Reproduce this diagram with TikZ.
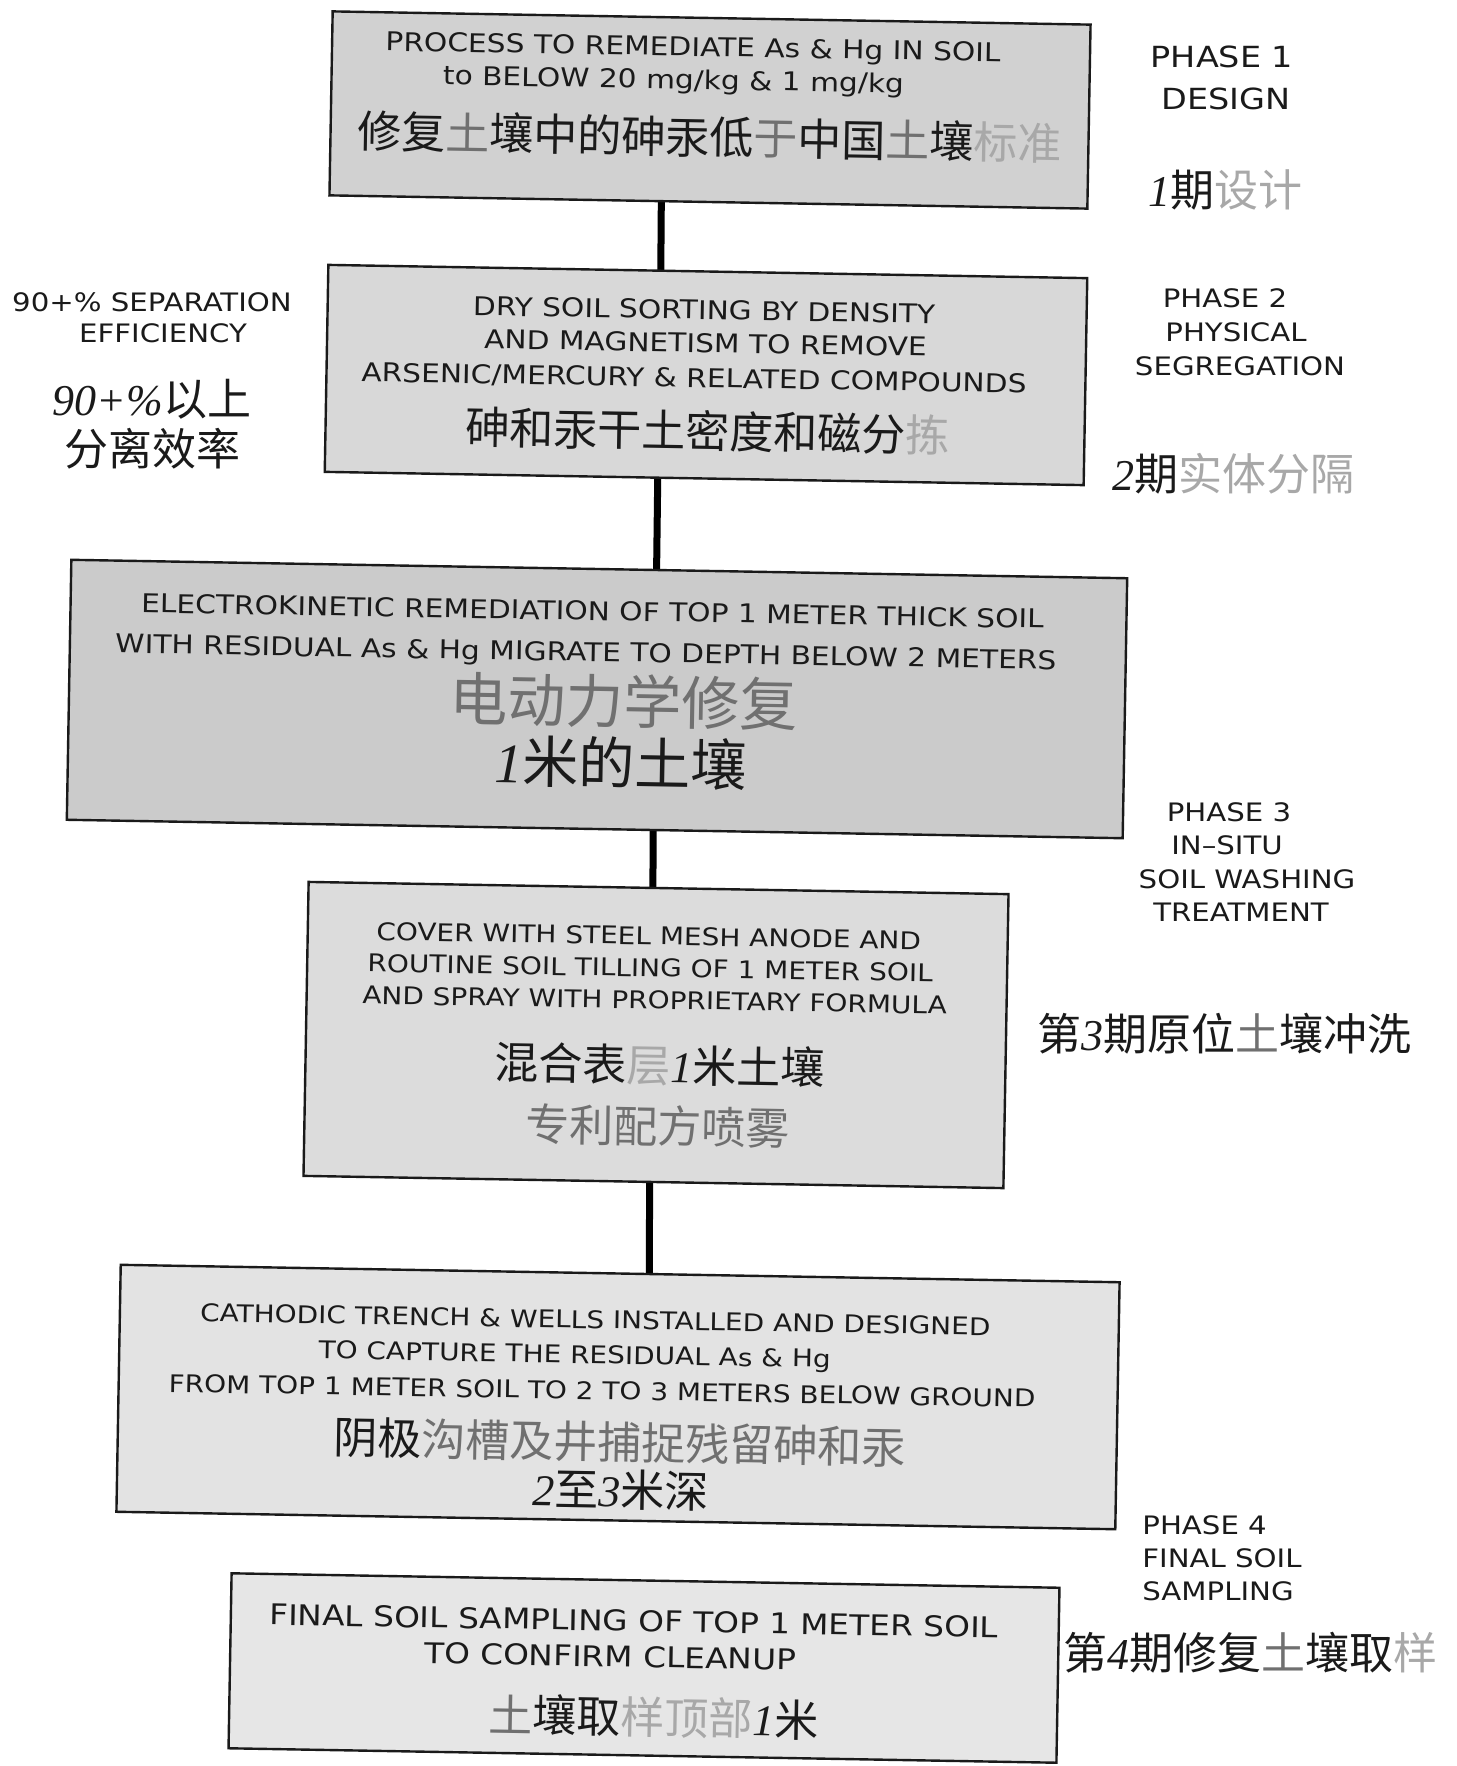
\documentclass[tikz,border=0pt]{standalone}
\usepackage{fontspec}
\setmainfont[FakeStretch=1.15]{DejaVu Sans}
\newfontfamily\cjk{Noto Sans CJK SC}
\newfontfamily\serifdig{Liberation Serif}
\usetikzlibrary{backgrounds}
\definecolor{ink}{HTML}{1A1A1A}
\definecolor{inkmid}{HTML}{707070}
\definecolor{inklt}{HTML}{A8A8A8}
\definecolor{fillA}{HTML}{D1D1D1}
\definecolor{fillB}{HTML}{D8D8D8}
\definecolor{fillC}{HTML}{CBCBCB}
\definecolor{fillD}{HTML}{DCDCDC}
\definecolor{fillE}{HTML}{E3E3E3}
\definecolor{fillF}{HTML}{E6E6E6}
\newcommand\cdk[1]{{\color{ink}#1}}
\newcommand\cmd[1]{{\color{inkmid}#1}}
\newcommand\clt[1]{{\color{inklt}#1}}
\newcommand\dig[1]{{\serifdig\itshape #1}}
\begin{document}
\begin{tikzpicture}[x=0.5pt,y=-0.5pt,
  box/.style={draw=ink, line width=1.2pt, inner sep=0pt},
  en/.style={inner sep=0pt, text=ink, font=\fontsize{12.9}{15}\selectfont, text height=9.4pt, text depth=0pt},
  ens/.style={inner sep=0pt, text=ink, font=\fontsize{12.15}{14}\selectfont, text height=8.9pt, text depth=0pt},
  enl/.style={inner sep=0pt, text=ink, font=\fontsize{14.25}{17}\selectfont, text height=10.4pt, text depth=0pt},
  side/.style={inner sep=0pt, text=ink, font=\fontsize{12.7}{15}\selectfont, text height=9.3pt, text depth=0pt},
  sidel/.style={inner sep=0pt, text=ink, font=\fontsize{14.55}{17}\selectfont, text height=10.6pt, text depth=0pt},
  cjA/.style={inner sep=0pt, text=ink, font=\cjk\fontsize{22}{26}\selectfont, text height=19.4pt, text depth=2.6pt},
  cjC/.style={inner sep=0pt, text=ink, font=\cjk\fontsize{29}{34}\selectfont, text height=25.5pt, text depth=3.5pt},
  cjD/.style={inner sep=0pt, text=ink, font=\cjk\fontsize{28}{33}\selectfont, text height=24.6pt, text depth=3.4pt},
  conn/.style={line width=3.5pt, draw=black}]
\useasboundingbox (0,0) rectangle (1456,1766);

% Box 1
\begin{scope}[shift={(710,110)}, rotate=-1, transform shape]
  \node[box, fill=fillA, minimum width=379pt, minimum height=92pt] (b1) at (0,0) {};
  \node[en] (b1a) at (-18,-63) {PROCESS TO REMEDIATE As \& Hg IN SOIL};
  \node[en] (b1b) at (-37,-30) {to BELOW 20 mg/kg \& 1 mg/kg};
  \node[cjA] (b1c) at (0,27) {\cdk{修复}\cmd{土}\cdk{壤中的砷汞低}\cmd{于}\cdk{中国}\cmd{土}\cdk{壤}\clt{标准}};
\end{scope}

% Box 2
\begin{scope}[shift={(706,375)}, rotate=-1, transform shape]
  \node[box, fill=fillB, minimum width=379.5pt, minimum height=103.5pt] (b2) at (0,0) {};
  \node[en] (b2a) at (-3,-65) {DRY SOIL SORTING BY DENSITY};
  \node[en] (b2b) at (-1,-32) {AND MAGNETISM TO REMOVE};
  \node[en] (b2c) at (-12,3) {ARSENIC/MERCURY \& RELATED COMPOUNDS};
  \node[cjA] (b2d) at (3,56) {\cdk{砷和汞干土密度和磁分}\clt{拣}};
\end{scope}

% Box 3
\begin{scope}[shift={(597,699)}, rotate=-1, transform shape]
  \node[box, fill=fillC, minimum width=528pt, minimum height=130pt] (b3) at (0,0) {};
  \node[en] (b3a) at (-6,-88) {ELECTROKINETIC REMEDIATION OF TOP 1 METER THICK SOIL};
  \node[en] (b3b) at (-12,-47) {WITH RESIDUAL As \& Hg MIGRATE TO DEPTH BELOW 2 METERS};
  \node[cjC] (b3c) at (27,2) {\cmd{电动力学修复}};
  \node[cjD] (b3d) at (25,64) {\cdk{\dig{1}米的土壤}};
\end{scope}

% Box 4
\begin{scope}[shift={(656,1035)}, rotate=-1, transform shape]
  \node[box, fill=fillD, minimum width=350pt, minimum height=147pt] (b4) at (0,0) {};
  \node[ens] (b4a) at (-9,-99) {COVER WITH STEEL MESH ANODE AND};
  \node[ens] (b4b) at (-7,-67) {ROUTINE SOIL TILLING OF 1 METER SOIL};
  \node[ens] (b4c) at (-2,-35) {AND SPRAY WITH PROPRIETARY FORMULA};
  \node[cjA] (b4d) at (4,30) {\cdk{混合表}\clt{层}\cdk{\dig{1}米土壤}};
  \node[cjA] (b4e) at (3,91) {\cmd{专利配方喷雾}};
\end{scope}

% Box 5
\begin{scope}[shift={(618,1397)}, rotate=-1, transform shape]
  \node[box, fill=fillE, minimum width=499.5pt, minimum height=123.5pt] (b5) at (0,0) {};
  \node[ens] (b5a) at (-24,-77) {CATHODIC TRENCH \& WELLS INSTALLED AND DESIGNED};
  \node[ens] (b5b) at (-44,-42) {TO CAPTURE THE RESIDUAL As \& Hg};
  \node[ens] (b5c) at (-16,-6) {FROM TOP 1 METER SOIL TO 2 TO 3 METERS BELOW GROUND};
  \node[cjA] (b5d) at (3,45) {\cdk{阴极}\cmd{沟槽及井捕捉残留砷和汞}};
  \node[cjA] (b5e) at (4,93) {\cdk{\dig{2}至\dig{3}米深}};
\end{scope}

% Box 6
\begin{scope}[shift={(644,1668)}, rotate=-1, transform shape]
  \node[box, fill=fillF, minimum width=414pt, minimum height=87.5pt] (b6) at (0,0) {};
  \node[enl] (b6a) at (-11,-47) {FINAL SOIL SAMPLING OF TOP 1 METER SOIL};
  \node[enl] (b6b) at (-34,-11) {TO CONFIRM CLEANUP};
  \node[cjA] (b6c) at (11,49) {\cmd{土}\cdk{壤取}\clt{样顶部}\cdk{\dig{1}米}};
\end{scope}

% connectors
\begin{pgfonlayer}{background}
  \draw[conn] ([xshift=-24pt]b1.center) -- ([xshift=-23pt]b2.center);
  \draw[conn] ([xshift=-23.5pt]b2.center) -- ([xshift=29pt]b3.center);
  \draw[conn] ([xshift=28.5pt]b3.center) -- ([xshift=-2pt]b4.center);
  \draw[conn] ([xshift=-3pt]b4.center) -- ([xshift=15.5pt]b5.center);
\end{pgfonlayer}

% Phase 1 labels
\node[sidel] (p1a) at (1222,57) {PHASE 1};
\node[sidel] (p1b) at (1226,99) {DESIGN};
\node[cjA] (p1c) at (1225,190) {\cdk{\dig{1}期}\clt{设计}};

% left labels
\node[side] (l1) at (152,302) {90+\% SEPARATION};
\node[side] (l2) at (163,333) {EFFICIENCY};
\node[cjA] (l3) at (152,399) {\cdk{\dig{90+\%}以上}};
\node[cjA] (l4) at (152,449) {\cdk{分离效率}};

% Phase 2 labels
\node[side] (p2a) at (1225,298) {PHASE 2};
\node[side] (p2b) at (1236,332) {PHYSICAL};
\node[side] (p2c) at (1240,366) {SEGREGATION};
\node[cjA] (p2d) at (1233,474) {\cdk{\dig{2}期}\clt{实体分隔}};

% Phase 3 labels
\node[side] (p3a) at (1229,812) {PHASE 3};
\node[side] (p3b) at (1227,845) {IN–SITU};
\node[side] (p3c) at (1247,879) {SOIL WASHING};
\node[side] (p3d) at (1241,912) {TREATMENT};
\node[cjA] (p3e) at (1224,1034) {\cdk{第\dig{3}期原位}\cmd{土}\cdk{壤冲洗}};

% Phase 4 labels
\node[side, anchor=west] (p4a) at (1142,1525) {PHASE 4};
\node[side, anchor=west] (p4b) at (1142,1558) {FINAL SOIL};
\node[side, anchor=west] (p4c) at (1142,1591) {SAMPLING};
\node[cjA] (p4d) at (1250,1653) {\cdk{第\dig{4}期修复}\cmd{土}\cdk{壤取}\clt{样}};
\end{tikzpicture}
\end{document}
